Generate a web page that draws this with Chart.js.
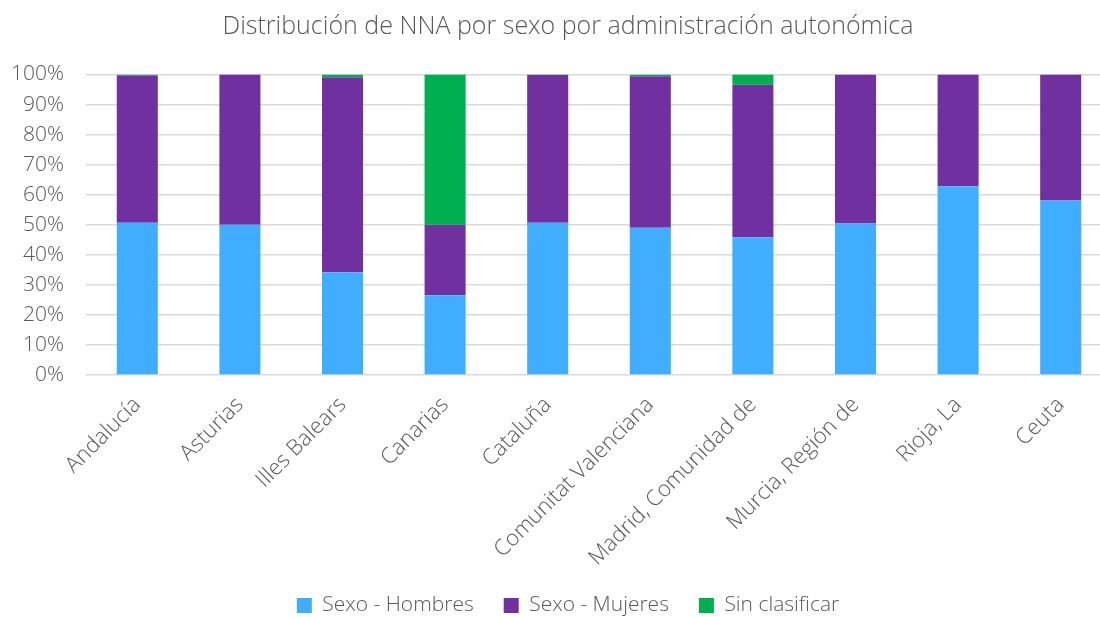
<!DOCTYPE html>
<html>
<head>
<meta charset="utf-8">
<script src="https://cdn.jsdelivr.net/npm/chart.js@4/dist/chart.umd.min.js"></script>
<style>
    html, body { margin: 0; padding: 0; background: #fff; overflow: hidden; }
    #wrap { width: 1136px; height: 626px; }
</style>
</head>
<body>
<div id="wrap"><canvas id="chart" width="1136" height="626"></canvas></div>
<script>
// Data (percent of NNA per region)
const regiones = ['Andalucía', 'Asturias', 'Illes Balears', 'Canarias', 'Cataluña',
    'Comunitat Valenciana', 'Madrid, Comunidad de', 'Murcia, Región de', 'Rioja, La', 'Ceuta'];
const hombres = [50.7, 50.0, 34.2, 26.5, 50.7, 49.0, 45.8, 50.4, 62.8, 58.1];
const mujeres = [49.0, 50.0, 64.9, 23.5, 49.1, 50.4, 50.8, 49.6, 37.2, 41.9];
const sinClasificar = [0.3, 0, 0.9, 50.0, 0.2, 0.6, 3.4, 0, 0, 0];
const yTicks = [0, 10, 20, 30, 40, 50, 60, 70, 80, 90, 100];

const textGray = '#595959';
const gridGray = '#d9d9d9';
const baseFont = "'Open Sans', 'Segoe UI', sans-serif";

const ctx = document.getElementById('chart');
new Chart(ctx, {
    type: 'bar',
    data: {
        labels: regiones,
        datasets: [
            { label: 'Sexo - Hombres', data: hombres, backgroundColor: '#41adff' },
            { label: 'Sexo - Mujeres', data: mujeres, backgroundColor: '#7030a0' },
            { label: 'Sin clasificar', data: sinClasificar, backgroundColor: '#00b050' }
        ]
    },
    options: {
        responsive: false,
        animation: false,
        layout: { padding: 0 },
        datasets: { bar: { categoryPercentage: 1, barPercentage: 0.4 } },
        plugins: {
            title: {
                display: true,
                text: 'Distribución de NNA por sexo por administración autonómica',
                color: textGray,
                font: { family: baseFont, size: 25, weight: 300 },
                padding: { top: 12, bottom: 32.5 }
            },
            legend: {
                position: 'bottom',
                labels: {
                    color: textGray,
                    font: { family: baseFont, size: 21, weight: 300 },
                    boxWidth: 15,
                    boxHeight: 15,
                    padding: 30
                }
            },
            tooltip: { enabled: false }
        },
        scales: {
            x: {
                stacked: true,
                afterFit: scale => { scale.height = 190; },
                grid: { display: false },
                border: { display: false },
                ticks: {
                    color: textGray,
                    font: { family: baseFont, size: 22, weight: 300 },
                    minRotation: 45,
                    maxRotation: 45,
                    padding: 9
                }
            },
            y: {
                stacked: true,
                min: 0,
                max: 100,
                afterFit: scale => { scale.width = 86; },
                afterBuildTicks: scale => { scale.ticks = yTicks.map(v => ({ value: v })); },
                grid: { color: gridGray, lineWidth: 1.5, drawTicks: false },
                border: { display: false },
                ticks: {
                    color: textGray,
                    font: { family: baseFont, size: 21, weight: 300 },
                    padding: 22,
                    callback: v => v + '%'
                }
            },
            // empty spacer on the right so the plot runs past the visible edge
            spacer: {
                type: 'linear',
                position: 'right',
                afterFit: scale => { scale.width = 24; },
                grid: { display: false },
                border: { display: false },
                ticks: { display: false }
            }
        }
    }
});
</script>
</body>
</html>
